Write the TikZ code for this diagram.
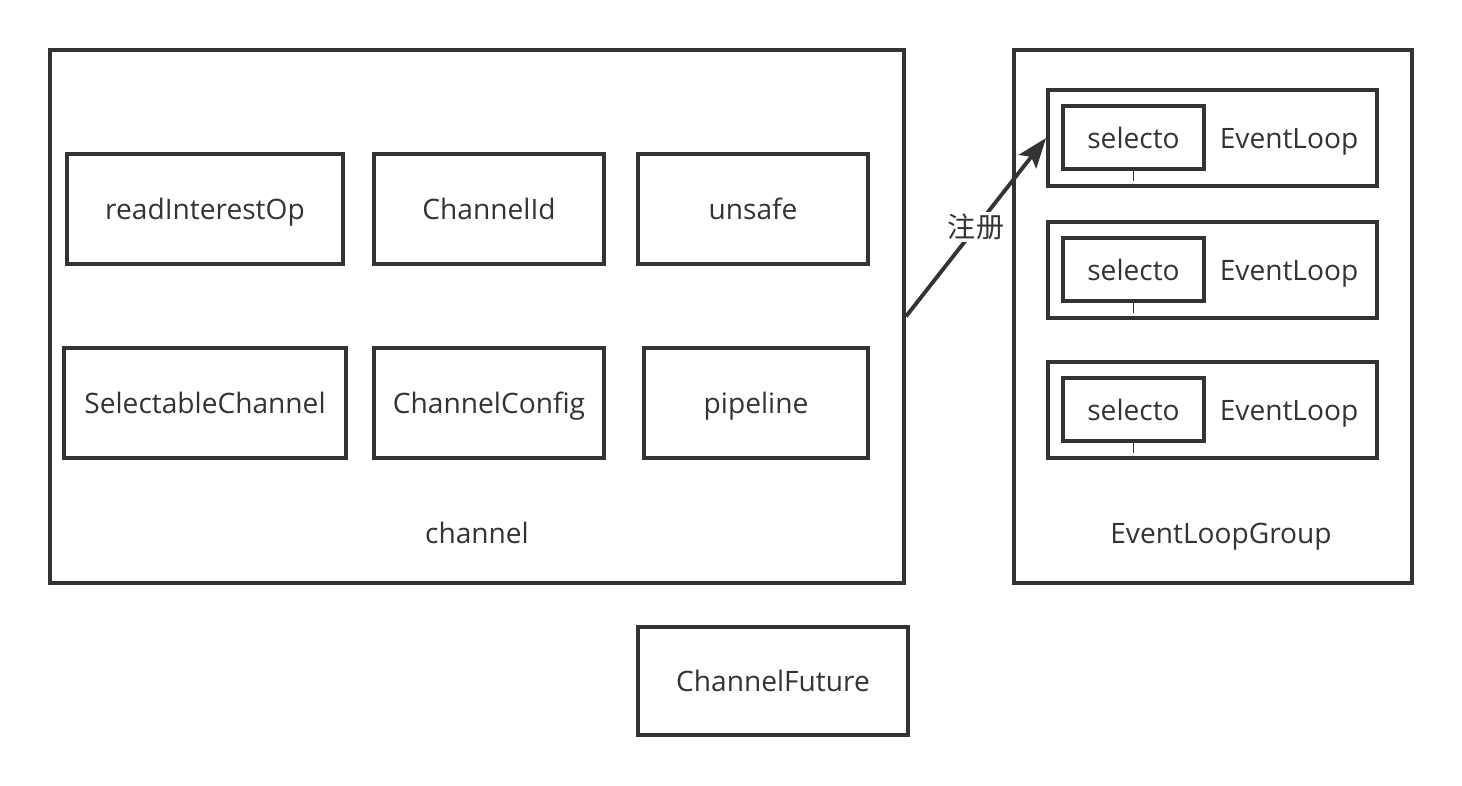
\documentclass[tikz,border=0pt]{standalone}
\usepackage{fontspec}
\setmainfont{Open Sans}
\newfontfamily\cjk{Noto Sans CJK SC}
\usepackage{tikz}
\usetikzlibrary{shapes.geometric, arrows, arrows.meta, positioning}
\definecolor{ink}{HTML}{333333}
\tikzstyle{frame} = [rectangle, draw=ink, line width=2.2pt, inner sep=0pt]
\tikzstyle{field} = [rectangle, minimum width=4.6cm, minimum height=2.2cm, text centered, text depth=0pt, draw=ink, line width=2.2pt]
\tikzstyle{loop} = [rectangle, minimum width=6.58cm, minimum height=1.92cm, draw=ink, line width=2.2pt]
\tikzstyle{sel} = [rectangle, minimum width=2.82cm, minimum height=1.26cm, text centered, text depth=0pt, draw=ink, line width=2.2pt]
\tikzstyle{arrow} = [line width=2.2pt,-{Stealth[length=0.6cm,width=0.44cm,inset=0.12cm]}, draw=ink]
\tikzset{every node/.style={align=center, text=ink, font=\fontsize{16}{19}\selectfont}}

\begin{document}
\begin{tikzpicture}
    \useasboundingbox (0,0) rectangle (29.24,-15.70);
    % channel
    \node (channel) [frame, minimum width=17.08cm, minimum height=10.66cm] at (9.54,-6.33) {};
    \node [text depth=0pt, above=0.7cm of channel.south] {channel};
    \node (readop) [field, minimum width=5.52cm] at (4.10,-4.18) {readInterestOp};
    \node (chid) [field] at (9.78,-4.18) {ChannelId};
    \node (unsafe) [field] at (15.06,-4.18) {unsafe};
    \node (selch) [field, minimum width=5.64cm] at (4.10,-8.06) {SelectableChannel};
    \node (config) [field] at (9.78,-8.06) {ChannelConfig};
    \node (pipeline) [field, minimum width=4.48cm] at (15.12,-8.06) {pipeline};

    % group
    \node (group) [frame, minimum width=7.96cm, minimum height=10.66cm] at (24.26,-6.33) {};
    \node [text depth=0pt, above=0.7cm of group.south, xshift=0.16cm] {EventLoopGroup};
    \foreach \i/\y in {1/-2.76, 2/-5.40, 3/-8.20} {
        \node (loop\i) [loop] at (24.25,\y) {};
        \node (sel\i) [sel] at (22.67,\y+0.01) {selecto};
        \node (name\i) [text depth=0pt] at (25.78,\y) {EventLoop};
        \draw [ink, line width=1.1pt] (sel\i.south) -- ++(0,-0.2);
    }

    \node (future) [field, minimum width=5.4cm, minimum height=2.16cm] at (15.46,-13.62) {ChannelFuture};

    \draw [arrow] (channel.east) -- node[fill=white, inner sep=1pt, font=\cjk\fontsize{16}{19}\selectfont]{注册} (loop1.west);
\end{tikzpicture}
\end{document}
